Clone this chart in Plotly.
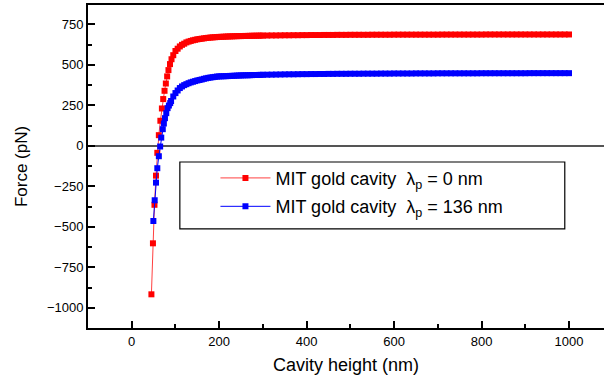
import plotly.graph_objects as go

# ---- data ----
red_x = [45, 48.5, 52, 55.5, 58.5, 62, 65.5, 69, 72, 75, 78, 81, 84, 87.5, 91, 95,
         100, 105, 110, 115, 120, 125, 130, 135, 140, 145, 150, 155, 160, 165, 170,
         175, 180, 185, 190, 195, 200, 205, 210, 215, 220, 225, 230, 235, 240, 245,
         250, 255, 260, 265, 270, 275, 280, 285, 290, 295, 300,
         310, 320, 330, 340, 350, 360, 370, 380, 390, 400,
         410, 420, 430, 440, 450, 460, 470, 480, 490, 500,
         510, 520, 530, 540, 550, 560, 570, 580, 590, 600,
         610, 620, 630, 640, 650, 660, 670, 680, 690, 700,
         710, 720, 730, 740, 750, 760, 770, 780, 790, 800,
         810, 820, 830, 840, 850, 860, 870, 880, 890, 900,
         910, 920, 930, 940, 950, 960, 970, 980, 990, 1000]
red_y = [-917, -602, -364, -184, -43, 66, 155, 231, 289, 340, 385, 429, 468, 505, 535, 560,
         586, 600, 614, 624, 631, 639, 644, 648, 652, 655, 658, 660, 662, 664, 666,
         667.5, 669, 670, 671, 672, 673, 673.5, 674, 675, 675.5, 676, 676.5, 677, 677.5, 678,
         678, 678.5, 679, 679, 679.5, 680, 680, 680.5, 680.5, 681, 681,
         681.5, 682, 682, 682.5, 683, 683, 683.5, 683.5, 684, 684,
         684.5, 684.5, 684.5, 685, 685, 685, 685.5, 685.5, 685.5, 686,
         686, 686, 686, 686, 686.5, 686.5, 686.5, 686.5, 686.5, 687,
         687, 687, 687, 687, 687, 687, 687, 687, 687, 687,
         687.5, 687.5, 687.5, 687.5, 687.5, 687.5, 687.5, 687.5, 687.5, 687.5,
         688, 688, 688, 688, 688, 688, 688, 688, 688, 688,
         688, 688, 688, 688, 688, 688, 688, 688, 688, 688]

blue_x = [49.5, 52.5, 55.5, 58.5, 62, 65, 67.5, 71, 73.5, 76, 79, 82, 85, 88, 90, 95,
          100, 105, 110, 115, 120, 125, 130, 135, 140, 145, 150, 155, 160, 165, 170,
          175, 180, 185, 190, 195, 200, 205, 210, 215, 220, 225, 230, 235, 240, 245,
          250, 255, 260, 265, 270, 275, 280, 285, 290, 295, 300,
          310, 320, 330, 340, 350, 360, 370, 380, 390, 400,
          410, 420, 430, 440, 450, 460, 470, 480, 490, 500,
          510, 520, 530, 540, 550, 560, 570, 580, 590, 600,
          610, 620, 630, 640, 650, 660, 670, 680, 690, 700,
          710, 720, 730, 740, 750, 760, 770, 780, 790, 800,
          810, 820, 830, 840, 850, 860, 870, 880, 890, 900,
          910, 920, 930, 940, 950, 960, 970, 980, 990, 1000]
blue_y = [-464, -336, -227, -138, -64, -4, 51, 103, 138, 171, 202, 233, 249, 264, 277, 305,
          326, 342, 357, 367, 375, 381, 387, 392, 396, 400, 404, 407, 410, 414, 417,
          420, 422, 424, 426, 428, 429, 429.5, 430, 430.5, 431, 432, 432.5, 433, 434, 434.5,
          435, 435.5, 436, 436, 436.5, 437, 437.5, 437.5, 438, 438.5, 439,
          439.5, 440, 440.5, 441, 441.5, 442, 442, 442.5, 443, 443,
          443.5, 443.5, 444, 444, 444.5, 444.5, 445, 445, 445, 445.5,
          445.5, 445.5, 446, 446, 446, 446, 446.5, 446.5, 446.5, 447,
          447, 447, 447, 447, 447.5, 447.5, 447.5, 447.5, 447.5, 448,
          448, 448, 448, 448, 448, 448, 448, 448, 448, 448.5,
          448.5, 448.5, 448.5, 448.5, 448.5, 448.5, 448.5, 448.5, 448.5, 448.5,
          449, 449, 449, 449, 449, 449, 449, 449, 449, 449]

red_name = "MIT gold cavity  λ<sub>p</sub> = 0 nm"
blue_name = "MIT gold cavity  λ<sub>p</sub> = 136 nm"

x_ticks = [0, 200, 400, 600, 800, 1000]
y_ticks = [-1000, -750, -500, -250, 0, 250, 500, 750]

FONT = "Arial, Liberation Sans, sans-serif"

fig = go.Figure()
fig.add_trace(go.Scatter(
    x=red_x, y=red_y, mode="lines+markers", name=red_name,
    line=dict(color="#ff4040", width=1),
    marker=dict(symbol="square", size=6, color="#ff0000", line=dict(width=0)),
    legendgroup="a"))
fig.add_trace(go.Scatter(
    x=blue_x, y=blue_y, mode="lines+markers", name=blue_name,
    line=dict(color="#0000ff", width=1),
    marker=dict(symbol="square", size=6, color="#0000ff", line=dict(width=0)),
    legendgroup="b"))

# legend frame
fig.add_shape(type="rect", xref="paper", yref="paper",
              x0=0.178, x1=0.924, y0=0.307, y1=0.514,
              line=dict(color="black", width=1.2), fillcolor="white", layer="below")

fig.update_layout(
    width=604, height=378,
    margin=dict(l=88, r=0, t=5, b=50),
    paper_bgcolor="white", plot_bgcolor="white",
    font=dict(family=FONT, color="black"),
    showlegend=True,
    legend=dict(x=0.247, y=0.521, xanchor="left", yanchor="top",
                bgcolor="rgba(0,0,0,0)", borderwidth=0,
                font=dict(size=18, family=FONT), traceorder="grouped",
                tracegroupgap=2, itemwidth=50),
    xaxis=dict(range=[-100, 1080], tickvals=x_ticks, ticks="inside", ticklen=7,
               tickwidth=1.5, tickcolor="black", showline=True, linecolor="black",
               linewidth=2, mirror=True, showgrid=False, zeroline=False,
               tickfont=dict(size=13, family=FONT),
               minor=dict(tickvals=[100, 300, 500, 700, 900], ticks="inside",
                          ticklen=4, tickwidth=1.5, tickcolor="black"),
               title=dict(text="Cavity height (nm)", font=dict(size=18, family=FONT),
                          standoff=11)),
    yaxis=dict(range=[-1125, 870], tickvals=y_ticks, ticks="inside", ticklen=7,
               tickwidth=1.5, tickcolor="black", showline=True, linecolor="black",
               linewidth=2, showgrid=False, zeroline=True, zerolinecolor="#555555",
               zerolinewidth=2, tickfont=dict(size=13, family=FONT),
               minor=dict(tickvals=[-875, -625, -375, -125, 125, 375, 625],
                          ticks="inside", ticklen=4, tickwidth=1.5, tickcolor="black"),
               title=dict(text="Force (pN)", font=dict(size=17, family=FONT),
                          standoff=15)),
)

fig.write_html("out.html")
